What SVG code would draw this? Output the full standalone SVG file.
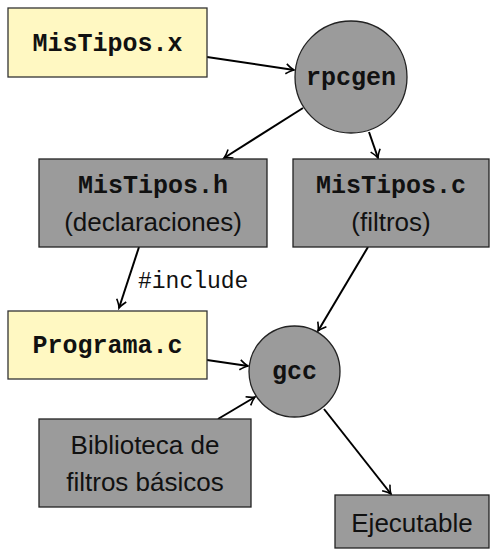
<svg xmlns="http://www.w3.org/2000/svg" width="491" height="550" viewBox="0 0 491 550">
<style>
.y{fill:#fff8c2;stroke:#333;stroke-width:1.3}
.g{fill:#9b9b9b;stroke:#222;stroke-width:1.3}
.m{font-family:"Liberation Mono","DejaVu Sans Mono",monospace;font-weight:bold;font-size:25px;text-anchor:middle;fill:#111}
.s{font-family:"Liberation Sans","DejaVu Sans",sans-serif;font-size:26px;text-anchor:middle;fill:#111}
.l{font-family:"Liberation Mono","DejaVu Sans Mono",monospace;font-size:23px;fill:#111}
.c line{stroke:#000;stroke-width:2;marker-end:url(#a)}
</style>
<defs>
<marker id="a" viewBox="-10 -6 12 12" refX="0" refY="0" markerWidth="12" markerHeight="12" markerUnits="userSpaceOnUse" orient="auto">
<path d="M-8,-5 Q-3,-1 0,0 Q-3,1 -8,5" fill="none" stroke="#000" stroke-width="1.6"/>
</marker>
</defs>
<g class="c">
<line x1="207" y1="57" x2="294" y2="70"/>
<line x1="303" y1="108" x2="224" y2="158"/>
<line x1="369" y1="132" x2="378" y2="158"/>
<line x1="139" y1="247" x2="119" y2="308"/>
<line x1="368" y1="247" x2="318" y2="331"/>
<line x1="207" y1="360" x2="248" y2="366"/>
<line x1="218" y1="419" x2="255" y2="397"/>
<line x1="324" y1="409" x2="391" y2="494"/>
</g>
<text class="l" x="138" y="288">#include</text>
<g id="mistipos_x"><rect class="y" x="8" y="8" width="199" height="69"/><text class="m" x="107.5" y="51">MisTipos.x</text></g>
<g id="rpcgen"><circle class="g" cx="351" cy="77" r="56"/><text class="m" x="351" y="85">rpcgen</text></g>
<g id="mistipos_h"><rect class="g" x="39" y="159" width="228" height="88"/><text class="m" x="153" y="193">MisTipos.h</text><text class="s" x="153" y="231">(declaraciones)</text></g>
<g id="mistipos_c"><rect class="g" x="293" y="159" width="196" height="88"/><text class="m" x="391" y="193">MisTipos.c</text><text class="s" x="391" y="231">(filtros)</text></g>
<g id="programa_c"><rect class="y" x="8" y="311" width="199" height="68"/><text class="m" x="107.5" y="353">Programa.c</text></g>
<g id="gcc"><circle class="g" cx="294.5" cy="371.5" r="45.5"/><text class="m" x="294.5" y="379">gcc</text></g>
<g id="biblioteca"><rect class="g" x="39" y="419" width="212" height="88"/><text class="s" x="145" y="454">Biblioteca de</text><text class="s" x="145" y="491">filtros básicos</text></g>
<g id="ejecutable"><rect class="g" x="335" y="495" width="154" height="53"/><text class="s" x="412" y="532">Ejecutable</text></g>
</svg>
